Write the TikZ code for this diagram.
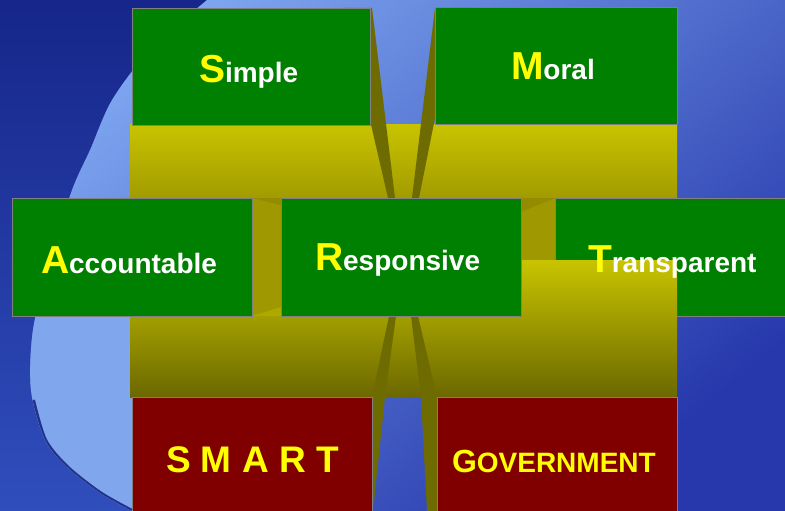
\documentclass[tikz,border=0pt]{standalone}
\usepackage{fontspec}
\setmainfont{Liberation Sans}
\definecolor{boxgreen}{RGB}{0,128,0}
\definecolor{boxred}{RGB}{128,0,0}
\definecolor{txtyellow}{RGB}{255,255,0}
\definecolor{bandtop}{RGB}{200,196,0}
\definecolor{bandmid}{RGB}{162,155,0}
\definecolor{bandlow}{RGB}{108,104,0}
\definecolor{raycol}{RGB}{110,108,0}
\definecolor{gapcol}{RGB}{160,152,0}
\definecolor{gapdark}{RGB}{148,140,0}
\definecolor{gaplight}{RGB}{174,168,0}
\definecolor{navy}{RGB}{22,38,138}
\definecolor{navylow}{RGB}{48,78,188}
\definecolor{skylight}{RGB}{126,166,240}
\definecolor{skydark}{RGB}{38,56,172}
\definecolor{limb}{RGB}{128,166,238}
\definecolor{limbshadow}{RGB}{35,50,140}
\definecolor{edgeline}{RGB}{128,128,128}
\tikzset{
  panel/.style={draw=edgeline, line width=0.8pt, inner sep=0pt, outer sep=0pt},
  greenbox/.style={panel, fill=boxgreen},
  redbox/.style={panel, fill=boxred},
  lbl/.style={inner sep=0pt, outer sep=0pt, anchor=base west, font=\bfseries, text=white},
  ray/.style={fill=raycol},
}
\newcommand\FirstL[1]{{\color{txtyellow}\fontsize{39}{39}\selectfont #1}}
\newcommand\RestL[1]{{\fontsize{28}{28}\selectfont #1}}
\begin{document}
\begin{tikzpicture}[x=1pt,y=-1pt]
\useasboundingbox (0,0) rectangle (785,511);
% background
\shade[top color=navy, bottom color=navylow] (0,0) rectangle (785,511);
\begin{scope}
  \clip plot[smooth] coordinates {(207,0) (150,50) (112,100) (90,150) (72,190) (50,260) (33,330) (31,390) (45,440) (67,467) (100,493) (132,511)} -- (785,511) -- (785,0) -- cycle;
  \shade[top color=skylight, bottom color=skydark, shading angle=40] (0,0) rectangle (785,511);
  \fill[limb] (0,316) rectangle (132,511);
  \draw[limbshadow, line width=4pt] plot[smooth] coordinates {(33,400) (45,440) (67,467) (100,493) (132,511)};
\end{scope}
% upper band
\shade[top color=bandtop, bottom color=bandmid] (130,124) rectangle (677,198);
% top rays
\fill[ray] (344,8) -- (372,8) -- (395,198) -- (388,198) -- cycle;
\fill[ray] (435,8) -- (457,8) -- (419,198) -- (412,198) -- cycle;
% top boxes
\node[greenbox, minimum width=238, minimum height=117] (simple) at (251,66.5) {};
\node[greenbox, minimum width=242, minimum height=117] (moral) at (556,65.5) {};
% transparent box (partly covered by the lower band)
\node[greenbox, minimum width=235, minimum height=118] (transp) at (672.5,257) {};
% right gap
\fill[gapcol] (521,198) rectangle (555,260);
\fill[gapdark] (521,198) -- (555,198) -- (521,212) -- cycle;
% lower band
\shade[top color=bandtop, bottom color=bandlow] (130,260) rectangle (677,397);
% left gap
\fill[gapcol] (252,198) rectangle (281,316);
\fill[gapdark] (252,198) -- (281,198) -- (281,205) -- cycle;
\fill[gaplight] (252,316) -- (281,307) -- (281,316) -- cycle;
% bottom rays
\fill[ray] (389,316) -- (396,316) -- (385,397) -- (373,511) -- (350,511) -- (372,397) -- cycle;
\fill[ray] (411,316) -- (418,316) -- (437,397) -- (450,511) -- (427,511) -- (421,397) -- cycle;
% middle and bottom boxes
\node[greenbox, minimum width=240, minimum height=118] (account) at (132,257) {};
\node[greenbox, minimum width=240, minimum height=118] (respons) at (401,257) {};
\node[redbox, minimum width=240, minimum height=123] (smart) at (252,458.5) {};
\node[redbox, minimum width=240, minimum height=123] (govt) at (557,458.5) {};
% labels
\node[lbl] (tsimple) at (199,82) {\FirstL{S}\RestL{imple}};
\node[lbl] (tmoral) at (511,79.3) {\FirstL{M}\RestL{oral}};
\node[lbl] (taccount) at (41,273) {\FirstL{A}\RestL{ccountable}};
\node[lbl] (trespons) at (315,270) {\FirstL{R}\RestL{esponsive}};
\node[lbl] (ttransp) at (588,272) {\FirstL{T}\RestL{ransparent}};
\node[lbl, text=txtyellow] (tsmart) at (166,472) {\fontsize{37}{37}\selectfont S M A R T};
\node[lbl, text=txtyellow] (tgovt) at (452,472) {\fontsize{32}{32}\selectfont G\fontsize{28}{28}\selectfont OVERNMENT};
\end{tikzpicture}
\end{document}
